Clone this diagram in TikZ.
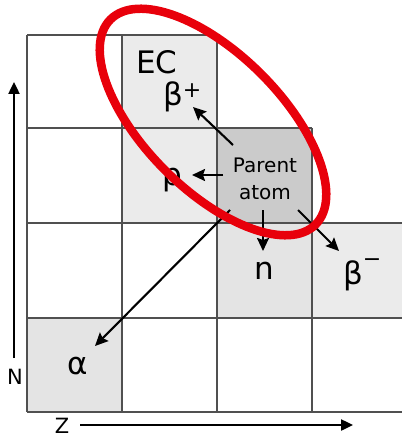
\documentclass[tikz,border=0pt]{standalone}
\usepackage{fontspec}
\setmainfont{DejaVu Sans}
\usetikzlibrary{arrows.meta}
\definecolor{cellA}{HTML}{EBEBEB}
\definecolor{cellB}{HTML}{CBCBCB}
\definecolor{cellC}{HTML}{E4E4E4}
\definecolor{gridc}{HTML}{505050}
\definecolor{ringred}{HTML}{E8000B}
\tikzset{
  gridline/.style={draw=gridc, line width=1.4pt},
  decay/.style={line width=2.1pt, -{Stealth[length=13pt,width=12pt,inset=2pt]}},
  axis/.style={line width=2.4pt, -{Triangle[length=12pt,width=11pt]}},
  biglabel/.style={font=\fontsize{31}{31}\selectfont, inner sep=0pt},
  smalllabel/.style={font=\fontsize{20}{27}\selectfont, inner sep=0pt, align=center},
  axlabel/.style={font=\fontsize{21}{21}\selectfont, inner sep=0pt}
}
\newcommand{\supplus}{\raisebox{8.5pt}{\fontsize{22}{22}\selectfont +}}
\newcommand{\supminus}{\raisebox{18pt}{\fontsize{22}{22}\selectfont −}}
\begin{document}
\begin{tikzpicture}[x=1pt,y=-1pt]
\useasboundingbox (0,0) rectangle (402,438);
% cell fills
\fill[cellA] (122,35) rectangle (217,128);
\fill[cellA] (122,128) rectangle (217,223);
\fill[cellB] (217,128) rectangle (312,223);
\fill[cellC] (217,223) rectangle (312,318);
\fill[cellA] (312,223) rectangle (402,318);
\fill[cellC] (27,318) rectangle (122,412);
% grid
\draw[gridline] (27,35) -- (217,35);
\draw[gridline] (27,128) -- (312,128);
\draw[gridline] (27,223) -- (402,223);
\draw[gridline] (27,318) -- (402,318);
\draw[gridline] (27,412) -- (402,412);
\draw[gridline] (27,35) -- (27,412);
\draw[gridline] (122,35) -- (122,412);
\draw[gridline] (217,35) -- (217,412);
\draw[gridline] (312,128) -- (312,412);
% labels
\node[biglabel] (ec) at (157,62) {EC};
\node[biglabel, anchor=base west] (bplus) at (163,106) {β\supplus};
\node[biglabel] (p) at (172,180) {p};
\node[smalllabel] (parent) at (265,179) {Parent\\atom};
\node[biglabel] (n) at (264,271) {n};
\node[biglabel, anchor=base west] (bminus) at (343,284) {β\supminus};
\node[biglabel] (alpha) at (78,366) {α};
\node[axlabel] (nlab) at (15,377) {N};
\node[axlabel] (zlab) at (62,426) {Z};
% arrow endpoints
\coordinate (s1) at (233,145); \coordinate (e1) at (193,107);
\coordinate (s2) at (223,175); \coordinate (e2) at (192,175);
\coordinate (s3) at (263,210); \coordinate (e3) at (263,251);
\coordinate (s4) at (298,210); \coordinate (e4) at (339,251);
\coordinate (s5) at (230,210); \coordinate (e5) at (95,346);
\draw[decay] (s1) -- (e1);
\draw[decay] (s2) -- (e2);
\draw[decay] (s3) -- (e3);
\draw[decay] (s4) -- (e4);
\draw[decay] (s5) -- (e5);
% axes
\coordinate (nb) at (14,358); \coordinate (nt) at (14,82);
\coordinate (zl) at (80,425); \coordinate (zr) at (353,425);
\draw[axis] (nb) -- (nt);
\draw[axis] (zl) -- (zr);
% red ring
\draw[ringred, line width=8.5pt] (213,122) ellipse [x radius=145pt, y radius=68pt, rotate=-45];
\end{tikzpicture}
\end{document}
